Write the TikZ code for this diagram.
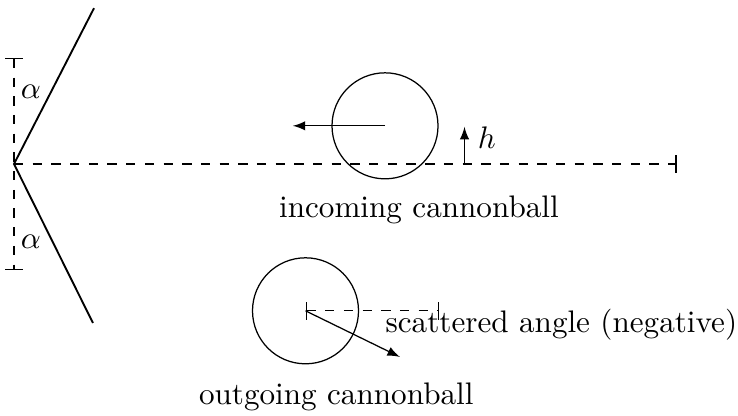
\documentclass[tikz,border=0pt]{standalone}
\usetikzlibrary{arrows}
\begin{document}
\begin{tikzpicture}[>=latex,x=0.598cm,y=0.598cm]
		\useasboundingbox (-0.264,-4.736) rectangle (13.66,3.094);
		\coordinate (O) at (0,0);\coordinate (wt) at (1.51,2.94);\coordinate (wb) at (1.49,-3.0);
		\draw[semithick] (wt)--(O)--(wb);
		\draw[dashed,|-|] (0,2)--(0,-2);\draw[dashed,-|] (O)--(12.5,0);
		\node[anchor=west,inner sep=2pt] (a1) at (0,1.36) {$\alpha$};\node[anchor=west,inner sep=2pt] (a2) at (0,-1.47) {$\alpha$};
		% incoming
		\node[draw,circle,minimum size=2*0.598cm,inner sep=0] (cin) at (7,0.72) {};
		\coordinate (vin) at (5.26,0.72);\draw[->] (cin.center)--(vin);
		\coordinate (hb) at (8.5,0);\coordinate (ht) at (8.5,0.7);\draw[->] (hb)--(ht);
		\node (h) at (8.92,0.49) {$h$};
		\node (tin) at (7.64,-0.87) {incoming cannonball};
		% outgoing
		\node[draw,circle,minimum size=2*0.598cm,inner sep=0] (cout) at (5.5,-2.77) {};
		\coordinate (dout) at (8.02,-2.77);\draw[dashed,|-|] (cout.center)--(dout);
		\coordinate (vout) at (7.28,-3.64);\draw[->] (cout.center)--(vout);
		\node[anchor=west,inner sep=0] (ang) at (7.0,-3.04) {scattered angle (negative)};
		\node (tout) at (6.08,-4.4) {outgoing cannonball};
	\end{tikzpicture}
\end{document}
